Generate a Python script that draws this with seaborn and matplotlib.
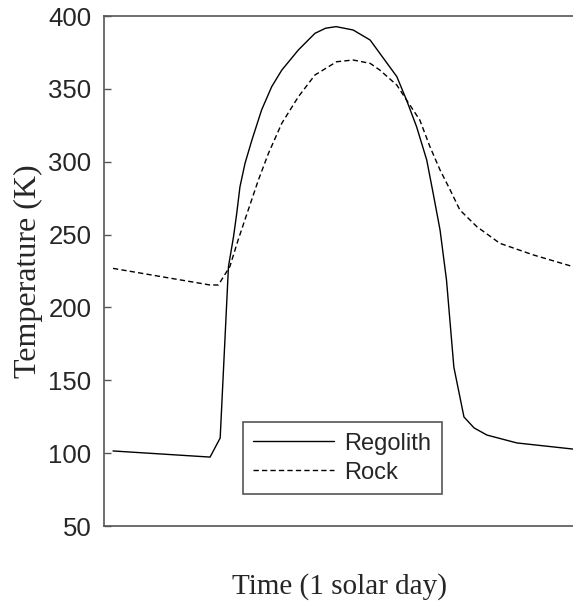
import numpy as np
import pandas as pd
import matplotlib
matplotlib.use("Agg")
import matplotlib.pyplot as plt
import seaborn as sns

# Time as fraction of one solar day
regolith_t = [0.000, 0.211, 0.233, 0.251, 0.262, 0.269, 0.276, 0.287, 0.302, 0.323,
              0.345, 0.367, 0.403, 0.439, 0.462, 0.485, 0.522, 0.559, 0.580, 0.617,
              0.638, 0.660, 0.682, 0.696, 0.711, 0.725, 0.741, 0.763, 0.785, 0.813,
              0.878, 1.000]
regolith_T = [101.5, 97.3, 110.4, 228.0, 248.5, 264.6, 282.8, 298.9, 314.9, 335.5,
              351.5, 362.9, 376.7, 388.1, 391.6, 392.7, 390.4, 383.5, 374.4, 358.4,
              342.4, 324.0, 301.2, 278.3, 253.1, 218.8, 159.0, 124.8, 117.3, 112.4,
              107.0, 102.8]

rock_t = [0.000, 0.211, 0.229, 0.254, 0.272, 0.294, 0.316, 0.338, 0.367, 0.403,
          0.439, 0.486, 0.522, 0.559, 0.580, 0.617, 0.638, 0.667, 0.689, 0.711,
          0.733, 0.754, 0.791, 0.841, 0.914, 1.000]
rock_T = [226.8, 215.4, 215.4, 228.0, 246.3, 266.9, 287.4, 305.8, 326.4, 344.6,
          359.5, 368.6, 369.8, 367.5, 362.9, 352.6, 342.4, 328.6, 310.3, 294.3,
          280.6, 266.9, 255.4, 244.0, 236.0, 228.0]

yticks = [50, 100, 150, 200, 250, 300, 350, 400]

sns.set_theme(style="white")
plt.rcParams['font.family'] = ['Liberation Sans', 'DejaVu Sans']

W, H = 573, 603
fig = plt.figure(figsize=(W / 100, H / 100), dpi=100)
ax = fig.add_axes([104 / W, (H - 526) / H, (575 - 104) / W, (526 - 16) / H])

df_reg = pd.DataFrame({"t": regolith_t, "T": regolith_T})
df_rock = pd.DataFrame({"t": rock_t, "T": rock_T})

sns.lineplot(data=df_reg, x="t", y="T", ax=ax, color="black", lw=1.0,
             label="Regolith", sort=False)
sns.lineplot(data=df_rock, x="t", y="T", ax=ax, color="black", lw=1.0,
             linestyle=(0, (3.8, 2.3)), label="Rock", sort=False)

ax.set_xlim((104 - 113) / 460, (575 - 113) / 460)
ax.set_ylim(50, 400)
ax.set_xticks([])
ax.set_yticks(yticks)
ax.tick_params(axis='y', direction='in', length=5, width=1, color='#555555',
               labelsize=18.5, labelcolor='#262626', pad=9, left=True)
for s in ax.spines.values():
    s.set_color('#555555')
    s.set_linewidth(1.2)

ax.set_xlabel("Time (1 solar day)", family=['Liberation Serif'], fontsize=21,
              color='#262626', labelpad=34)
ax.set_ylabel("Temperature (K)", family=['Liberation Serif'], fontsize=23,
              color='#262626', labelpad=4)

leg = ax.legend(loc='lower left', bbox_to_anchor=(0.2945, 0.062), borderaxespad=0,
                fontsize=17, handlelength=3.4, handletextpad=0.45, labelspacing=0.3,
                borderpad=0.45, frameon=True, fancybox=False, framealpha=1)
leg.get_frame().set_edgecolor('#555555')
leg.get_frame().set_linewidth(1.2)
for txt in leg.get_texts():
    txt.set_color('#262626')

fig.savefig("out.png", dpi=100)
